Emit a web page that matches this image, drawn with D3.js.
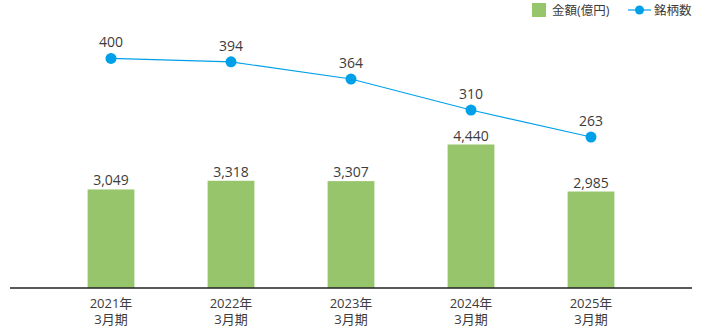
<!DOCTYPE html>
<html><head><meta charset="utf-8">
<script src="https://cdn.jsdelivr.net/npm/d3@7"></script>
<style>
html,body{margin:0;padding:0;background:#fff;}
svg{display:block;font-family:"Open Sans","Noto Sans CJK JP",sans-serif;}
</style></head>
<body><svg id="c" width="702" height="330"></svg>
<script>
const years = ["2021年", "2022年", "2023年", "2024年", "2025年"];
const periods = ["3月期", "3月期", "3月期", "3月期", "3月期"];
const amounts = [3049, 3318, 3307, 4440, 2985];
const counts = [400, 394, 364, 310, 263];
const legendLabels = ["金額(億円)", "銘柄数"];

const svg = d3.select("#c");
const green = "#97c56c", blue = "#00a0e9", txt = "#3c3c3c";
const x = d3.scaleBand().domain(years).range([51, 651]).paddingInner(0.61).paddingOuter(0.305);
const yBar = d3.scaleLinear().domain([0, 8880]).range([288, 1]);
const yLine = d3.scaleLinear().domain([0, 500]).range([288, 1]);
const cx = d => x(d) + x.bandwidth() / 2;

// bars
svg.append("g").selectAll("rect").data(amounts).join("rect")
  .attr("x", (d, i) => x(years[i])).attr("width", x.bandwidth())
  .attr("y", d => yBar(d)).attr("height", d => yBar(0) - yBar(d))
  .attr("fill", green);
svg.append("g").selectAll("text").data(amounts).join("text")
  .attr("x", (d, i) => cx(years[i])).attr("y", d => yBar(d) - 4)
  .attr("text-anchor", "middle").attr("font-size", 14).attr("fill", txt)
  .text(d => d3.format(",")(d));

// baseline axis
const xAxis = d3.axisBottom(x).tickSize(0).tickFormat("");
const ax = svg.append("g").attr("transform", "translate(0,288)").call(xAxis);
ax.select(".domain").remove();
svg.append("line").attr("x1", 10).attr("x2", 692).attr("y1", 288).attr("y2", 288)
  .attr("stroke", "#222").attr("stroke-width", 1.5);
const lab = svg.append("g");
lab.selectAll("text.yr").data(years).join("text").attr("class", "yr")
  .attr("text-anchor", "middle").attr("font-size", 13).attr("fill", txt)
  .attr("x", d => cx(d)).attr("y", 307.5).text(d => d);
lab.selectAll("text.pd").data(periods).join("text").attr("class", "pd")
  .attr("text-anchor", "middle").attr("font-size", 13).attr("fill", txt)
  .attr("x", (d, i) => cx(years[i])).attr("y", 323.5).text(d => d);

// line
const line = d3.line().x((d, i) => cx(years[i])).y(d => yLine(d));
svg.append("path").datum(counts).attr("d", line).attr("fill", "none")
  .attr("stroke", blue).attr("stroke-width", 1.1);
svg.append("g").selectAll("circle").data(counts).join("circle")
  .attr("cx", (d, i) => cx(years[i])).attr("cy", d => yLine(d)).attr("r", 5.5)
  .attr("fill", blue);
svg.append("g").selectAll("text").data(counts).join("text")
  .attr("x", (d, i) => cx(years[i])).attr("y", d => yLine(d) - 11)
  .attr("text-anchor", "middle").attr("font-size", 14).attr("fill", txt)
  .text(d => d);

// legend
const lg = svg.append("g");
lg.append("rect").attr("x", 532).attr("y", 3).attr("width", 14).attr("height", 14).attr("fill", green);
lg.append("text").attr("x", 552).attr("y", 14.5).attr("font-size", 12.5).attr("fill", txt).text(legendLabels[0]);
lg.append("line").attr("x1", 628).attr("x2", 651).attr("y1", 10).attr("y2", 10).attr("stroke", blue).attr("stroke-width", 1.2);
lg.append("circle").attr("cx", 639.5).attr("cy", 10).attr("r", 4.5).attr("fill", blue);
lg.append("text").attr("x", 654).attr("y", 14.5).attr("font-size", 12.5).attr("fill", txt).text(legendLabels[1]);
</script></body></html>
